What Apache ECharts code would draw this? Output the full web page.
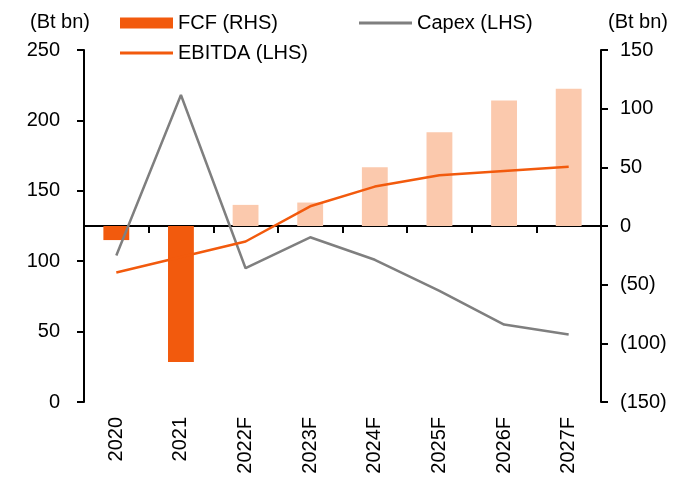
<!DOCTYPE html>
<html>
<head>
<meta charset="utf-8">
<script src="https://cdn.jsdelivr.net/npm/echarts@6/dist/echarts.min.js"></script>
<style>
  html, body { margin: 0; padding: 0; background: #fff; }
  #chart { width: 700px; height: 482px; }
</style>
</head>
<body>
<div id="chart"></div>
<script>
// 数据
const categories = ['2020', '2021', '2022F', '2023F', '2024F', '2025F', '2026F', '2027F'];
const fcf = [-12, -116, 18, 20, 50, 80, 107, 117];      // RHS
const capex = [104, 218, 95, 117, 101, 79, 55, 48];     // LHS
const ebitda = [92, 103, 114, 139, 153, 161, 164, 167]; // LHS

const DARK = '#F25A0D';
const LIGHT = '#FBC9AD';
const GREY = '#7F7F7F';
const FONT = 'Liberation Sans, Arial, sans-serif';

const chart = echarts.init(document.getElementById('chart'));

const axisLineStyle = { color: '#000', width: 2 };
const legendText = { fontFamily: FONT, fontSize: 20, color: '#000' };

const option = {
    animation: false,
    backgroundColor: '#fff',
    textStyle: { fontFamily: FONT, fontSize: 20, color: '#000' },
    grid: { left: 84, right: 99, top: 50, bottom: 80 },
    legend: [
        {
            data: [{ name: 'FCF (RHS)', icon: 'rect' }],
            left: 120, top: 13, padding: 0,
            itemWidth: 53, itemHeight: 11,
            textStyle: legendText
        },
        {
            data: [{ name: 'Capex (LHS)', icon: 'rect' }],
            left: 359, top: 13, padding: 0,
            itemWidth: 53, itemHeight: 3,
            textStyle: legendText
        },
        {
            data: [{ name: 'EBITDA (LHS)', icon: 'rect' }],
            left: 120, top: 43, padding: 0,
            itemWidth: 53, itemHeight: 3,
            textStyle: legendText
        }
    ],
    xAxis: [
        {
            type: 'category',
            data: categories,
            position: 'bottom',
            axisLine: { show: false },
            axisTick: { show: false },
            axisLabel: { rotate: 90, margin: 15, fontSize: 20, fontFamily: FONT, color: '#000' }
        },
        {
            type: 'category',
            data: categories,
            position: 'bottom',
            axisLine: { show: true, onZero: true, onZeroAxisIndex: 1, lineStyle: axisLineStyle },
            axisTick: { show: true, length: 7, lineStyle: axisLineStyle },
            axisLabel: { show: false }
        }
    ],
    yAxis: [
        {
            type: 'value',
            min: 0, max: 250, interval: 50,
            name: '(Bt bn)',
            nameLocation: 'end',
            nameGap: 18,
            nameTextStyle: { align: 'right', padding: [0, -6, 0, 0], fontSize: 20, fontFamily: FONT, color: '#000' },
            axisLine: { show: true, lineStyle: axisLineStyle },
            axisTick: { show: true, length: 7, lineStyle: axisLineStyle },
            axisLabel: { margin: 24, fontSize: 20, fontFamily: FONT, color: '#000' },
            splitLine: { show: false }
        },
        {
            type: 'value',
            position: 'right',
            min: -150, max: 150, interval: 50,
            name: '(Bt bn)',
            nameLocation: 'end',
            nameGap: 18,
            nameTextStyle: { align: 'left', padding: [0, 0, 0, 7], fontSize: 20, fontFamily: FONT, color: '#000' },
            axisLine: { show: true, lineStyle: axisLineStyle },
            axisTick: { show: true, length: 7, lineStyle: axisLineStyle },
            axisLabel: {
                margin: 19, fontSize: 20, fontFamily: FONT, color: '#000',
                formatter: v => v < 0 ? '(' + (-v) + ')' : String(v)
            },
            splitLine: { show: false }
        }
    ],
    series: [
        {
            name: 'FCF (RHS)',
            type: 'bar',
            xAxisIndex: 0,
            yAxisIndex: 1,
            barWidth: '40%',
            itemStyle: { color: DARK },
            data: fcf.map((v, i) => ({
                value: v,
                itemStyle: { color: categories[i].endsWith('F') ? LIGHT : DARK }
            })),
            z: 1
        },
        {
            name: 'Capex (LHS)',
            type: 'line',
            xAxisIndex: 0,
            yAxisIndex: 0,
            data: capex,
            symbol: 'none',
            lineStyle: { color: GREY, width: 2.5 },
            itemStyle: { color: GREY },
            z: 3
        },
        {
            name: 'EBITDA (LHS)',
            type: 'line',
            xAxisIndex: 0,
            yAxisIndex: 0,
            data: ebitda,
            symbol: 'none',
            lineStyle: { color: DARK, width: 2.5 },
            itemStyle: { color: DARK },
            z: 3
        }
    ]
};

chart.setOption(option);
</script>
</body>
</html>
